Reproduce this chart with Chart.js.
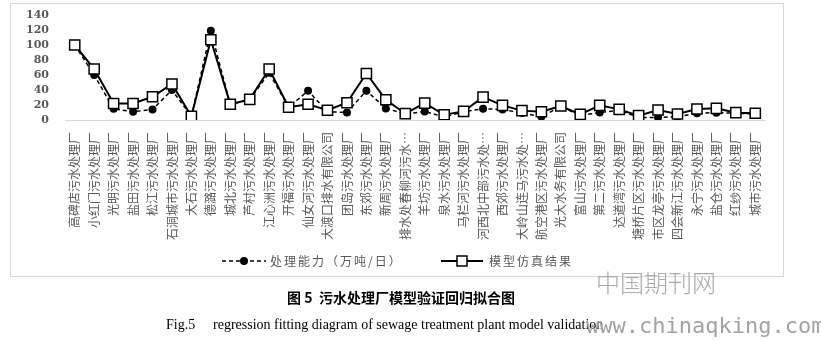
<!DOCTYPE html>
<html>
<head>
<meta charset="utf-8">
<title>污水处理厂模型验证回归拟合图</title>
<script src="https://cdn.jsdelivr.net/npm/chart.js@4/dist/chart.umd.min.js"></script>
<style>
  html, body { margin: 0; padding: 0; background: #fff; }
  canvas { display: block; }
</style>
</head>
<body>
<canvas id="chart" width="821" height="340"></canvas>
<script>
// plant names (x categories)
const plants = [
  '高碑店污水处理厂', '小红门污水处理厂', '光明污水处理厂', '盐田污水处理厂',
  '松江污水处理厂', '石洞城市污水处理厂', '大石污水处理厂', '德潞污水处理厂',
  '城北污水处理厂', '芦村污水处理厂', '江心洲污水处理厂', '开福污水处理厂',
  '仙女河污水处理厂', '大渡口排水有限公司', '团岛污水处理厂', '东郊污水处理厂',
  '新周污水处理厂', '排水处春柳河污水…', '羊坊污水处理厂', '泉水污水处理厂',
  '马栏河污水处理厂', '河西北中部污水处…', '西郊污水处理厂', '大岭山连马污水处…',
  '航空港区污水处理厂', '光大水务有限公司', '富山污水处理厂', '第二污水处理厂',
  '达道湾污水处理厂', '塘桥片区污水处理厂', '市区龙亭污水处理厂', '四会新江污水处理厂',
  '永宁污水处理厂', '盐仓污水处理厂', '红纱污水处理厂', '城市污水处理厂'
];

// 处理能力（万吨/日）
const capacity = [
  100, 60, 15, 11, 14, 40, 5, 119, 21, 27, 63, 17,
  39, 11, 10, 39, 15.5, 8, 11.5, 4, 11, 15, 14, 9.5,
  4.5, 18, 6, 10, 13, 3.5, 3.5, 4.5, 9, 9.8, 9, 8
];

// 模型仿真结果
const simulated = [
  100, 68, 22, 22, 31, 48, 5, 107, 21, 27.5, 68, 17,
  21, 13, 23, 62, 27, 8.5, 22.5, 7, 11.5, 30.5, 19.5, 12.5,
  11, 18.7, 7.6, 19.6, 14.2, 5.8, 13.3, 8, 14.7, 15.6, 9.8, 9
];

const yTicks = [0, 20, 40, 60, 80, 100, 120, 140];

const legendNames = ['处理能力（万吨/日）', '模型仿真结果'];

const CJK = '"Noto Sans CJK SC", "Noto Sans", sans-serif';

// frame, legend, captions and site watermark
const extrasPlugin = {
  id: 'extras',
  afterDraw(chart) {
    const ctx = chart.ctx;
    ctx.save();

    // outer frame
    ctx.strokeStyle = '#d9d9d9';
    ctx.lineWidth = 1;
    ctx.strokeRect(10.5, 3.5, 773, 273);

    // legend
    const ly = 261;
    ctx.strokeStyle = '#000';
    ctx.lineWidth = 1.5;
    ctx.setLineDash([4, 3]);
    ctx.beginPath();
    ctx.moveTo(222, ly);
    ctx.lineTo(266, ly);
    ctx.stroke();
    ctx.setLineDash([]);
    ctx.fillStyle = '#000';
    ctx.beginPath();
    ctx.arc(244, ly, 4, 0, Math.PI * 2);
    ctx.fill();

    ctx.lineWidth = 2;
    ctx.beginPath();
    ctx.moveTo(441, ly);
    ctx.lineTo(483, ly);
    ctx.stroke();
    ctx.fillStyle = '#fff';
    ctx.fillRect(457, ly - 5, 10, 10);
    ctx.lineWidth = 1.5;
    ctx.strokeRect(457, ly - 5, 10, 10);

    ctx.fillStyle = '#595959';
    ctx.font = '12px ' + CJK;
    ctx.textBaseline = 'middle';
    ctx.letterSpacing = '2px';
    ctx.fillText(legendNames[0], 270, ly);
    ctx.fillText(legendNames[1], 489, ly);
    ctx.letterSpacing = '0px';

    // captions
    ctx.fillStyle = '#000';
    ctx.font = 'bold 14px ' + CJK;
    ctx.textAlign = 'center';
    ctx.fillText('图 5  污水处理厂模型验证回归拟合图', 401, 298);
    ctx.textAlign = 'left';
    ctx.font = '14px "Liberation Serif", "Times New Roman", serif';
    ctx.fillText('Fig.5', 166, 325);
    ctx.fillText('regression fitting diagram of sewage treatment plant model validation', 213, 325);

    // watermark
    ctx.fillStyle = '#ababab';
    ctx.font = '300 24px ' + CJK;
    ctx.fillText('中国期刊网', 596, 283);
    ctx.fillStyle = '#a3a3a3';
    ctx.font = '22px "DejaVu Sans Mono", monospace';
    ctx.fillText('www.chinaqking.com', 586, 327);

    ctx.restore();
  }
};

const ctx = document.getElementById('chart').getContext('2d');
new Chart(ctx, {
  type: 'line',
  data: {
    labels: plants,
    datasets: [
      {
        label: legendNames[0],
        data: capacity,
        borderColor: '#000',
        borderWidth: 1.5,
        borderDash: [4, 3],
        pointStyle: 'circle',
        pointRadius: 4,
        pointBackgroundColor: '#000',
        pointBorderColor: '#000',
        pointBorderWidth: 0,
        tension: 0,
        order: 1,
      },
      {
        label: legendNames[1],
        data: simulated,
        borderColor: '#000',
        borderWidth: 2,
        pointStyle: 'rect',
        pointRadius: 7.2,
        pointBackgroundColor: '#fff',
        pointBorderColor: '#000',
        pointBorderWidth: 1.5,
        tension: 0,
        order: 0,
      },
    ],
  },
  options: {
    responsive: false,
    animation: false,
    layout: {
      autoPadding: false,
      padding: { top: 15, left: 0, right: 56, bottom: 90 },
    },
    plugins: {
      legend: { display: false },
      tooltip: { enabled: false },
    },
    scales: {
      x: {
        offset: true,
        grid: { display: false, drawTicks: false },
        border: { display: true, color: '#d9d9d9', width: 1 },
        ticks: {
          autoSkip: false,
          minRotation: 90,
          maxRotation: 90,
          padding: 12,
          color: '#595959',
          font: { size: 12, family: CJK },
        },
        afterFit(scale) { scale.height = 130; },
      },
      y: {
        min: 0,
        max: 140,
        grid: { display: false, drawTicks: false },
        border: { display: false },
        afterBuildTicks(scale) {
          scale.ticks = yTicks.map((v) => ({ value: v }));
        },
        ticks: {
          autoSkip: false,
          padding: 16,
          color: '#595959',
          font: { size: 11, weight: 'bold', family: '"DejaVu Serif", serif' },
        },
        afterFit(scale) {
          scale.width = 65;
          // tick padding would otherwise push the plot top down
          scale.paddingTop = 0;
          scale.paddingBottom = 0;
        },
      },
    },
  },
  plugins: [extrasPlugin],
});
</script>
</body>
</html>
